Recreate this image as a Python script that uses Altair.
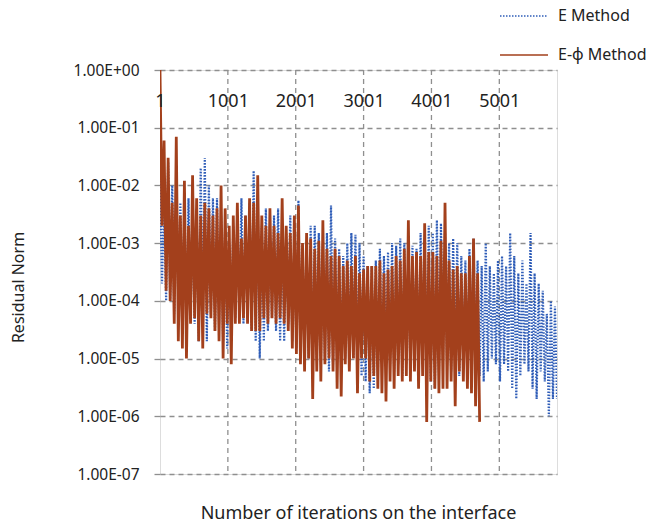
import altair as alt
import pandas as pd

# iteration step between stored samples (category positions 1, 31, 61, ...)
ITER_STEP = 30

E_METHOD = [
    1.2e-2, 2e-4, 5e-3, 1e-4, 2.5e-2, 1e-4, 1e-2, 6e-5, 1.5e-2, 8e-5,
    5e-3, 5e-5, 4e-3, 3e-5, 6e-3, 5e-5, 3e-3, 4e-5, 4e-3, 2e-5,
    2e-2, 5e-5, 3e-2, 2e-5, 1e-2, 6e-5, 6e-3, 3e-5, 6e-3, 4e-5,
    3e-3, 2e-5, 2e-3, 1.5e-5, 1e-3, 3e-5, 2e-3, 5e-5, 3e-3, 6e-5,
    6e-3, 4e-5, 3e-3, 5e-5, 5e-3, 3e-5, 1.8e-2, 2e-5, 4e-3, 1e-5,
    2e-3, 2e-5, 4e-3, 3e-5, 2e-3, 5e-5, 3e-3, 3e-5, 4e-3, 2e-5,
    2e-3, 2e-5, 1.5e-3, 4e-5, 3e-3, 2e-5, 1.5e-3, 1.5e-5, 5.5e-3, 1e-5,
    1e-3, 1.5e-5, 8e-4, 1e-5, 2e-3, 6e-6, 2e-3, 1e-5, 1.5e-3, 8e-6,
    1e-3, 1e-5, 1.5e-3, 6e-6, 4.5e-3, 8e-6, 1.2e-3, 1e-5, 8e-4, 6e-6,
    6e-4, 1e-5, 1e-3, 8e-6, 1.5e-3, 1e-5, 1.4e-3, 6e-6, 1e-3, 5e-6,
    6e-4, 4e-6, 4e-4, 2.5e-6, 4e-4, 3e-6, 5e-4, 5e-6, 8e-4, 8e-6,
    6e-4, 1e-5, 7e-4, 8e-6, 1e-3, 6e-6, 9e-4, 8e-6, 1.2e-3, 5e-6,
    1e-3, 8e-6, 6e-4, 6e-6, 9e-4, 1e-5, 8e-4, 6e-6, 1.5e-3, 1e-5,
    1.2e-3, 8e-6, 2e-3, 4e-6, 1.5e-3, 3e-6, 2.5e-3, 6e-6, 2.2e-3, 1e-5,
    1.5e-3, 8e-6, 1e-3, 6e-6, 1.2e-3, 1e-5, 1e-3, 5e-6, 6e-4, 8e-6,
    5e-4, 6e-6, 8e-4, 1e-5, 1.2e-3, 8e-6, 5e-4, 5e-6, 4e-4, 4e-6,
    1e-3, 6e-6, 4e-4, 1e-5, 3e-4, 8e-6, 5e-4, 4e-6, 6e-4, 8e-6,
    4e-4, 6e-6, 1.5e-3, 3e-6, 6e-4, 2e-6, 3e-4, 5e-6, 5e-4, 8e-6,
    2e-4, 6e-6, 1.5e-3, 3e-6, 3e-4, 2e-6, 2e-4, 6e-6, 1.5e-4, 4e-6,
    6e-5, 1e-6, 1e-4, 2e-6, 8e-5, 2e-6,
]

E_PHI_METHOD = [
    1.0, 2e-3, 6e-2, 1.5e-4, 3e-2, 1e-4, 5e-3, 4e-5, 7e-2, 2e-5,
    3e-3, 1.5e-5, 1.2e-2, 1e-5, 2e-3, 4e-5, 1.5e-2, 5e-5, 6e-3, 2e-5,
    3e-3, 1.5e-5, 5e-3, 6e-5, 4e-3, 5e-5, 3e-3, 3e-5, 4e-3, 2e-5,
    1e-2, 1e-5, 4e-3, 4e-5, 2e-3, 8e-6, 3e-3, 4e-5, 5e-3, 4e-5,
    1.2e-3, 5e-5, 3e-3, 4e-5, 6e-3, 3e-5, 5e-3, 3e-5, 1.5e-2, 3e-5,
    3e-3, 5e-5, 2e-3, 4e-5, 4e-3, 5e-5, 2e-3, 4e-5, 1.5e-3, 5e-5,
    6e-3, 4e-5, 2e-3, 3e-5, 1.5e-3, 1.5e-5, 3e-3, 1.2e-5, 4.5e-3, 8e-6,
    1e-3, 6e-6, 1.5e-3, 1e-5, 1.2e-3, 2e-6, 8e-4, 6e-6, 1.1e-3, 4e-6,
    2.5e-3, 8e-6, 8e-4, 1e-5, 6e-4, 6e-6, 8e-4, 3e-6, 6e-4, 2.2e-6,
    4e-4, 8e-6, 5e-4, 6e-6, 4e-4, 1e-5, 6e-4, 2.5e-6, 3e-4, 1e-5,
    3.5e-4, 1e-5, 4e-4, 4e-6, 4e-4, 5e-6, 4e-4, 3e-6, 5e-4, 2.5e-6,
    3e-4, 1.8e-6, 3.5e-4, 4e-6, 4e-4, 3e-6, 6e-4, 5e-6, 5e-4, 4e-6,
    8e-4, 5e-6, 2.5e-3, 4e-6, 6e-4, 6e-6, 7e-4, 3e-6, 6e-4, 5e-6,
    2.2e-3, 8e-7, 7e-4, 4e-6, 7e-4, 3e-6, 6e-4, 2.5e-6, 1.1e-3, 3e-6,
    5e-3, 3e-6, 5e-4, 4e-6, 3.5e-4, 1.5e-6, 4e-4, 6e-6, 3e-4, 4e-6,
    3e-4, 3e-6, 6e-4, 2.5e-6, 1.2e-3, 1.5e-6, 3e-4, 8e-7,
]

SERIES = ["E Method", "E-ϕ Method"]
X_TICKS = [1, 1001, 2001, 3001, 4001, 5001]
Y_TICKS = [1e-7, 1e-6, 1e-5, 1e-4, 1e-3, 1e-2, 1e-1, 1e0]

rows = []
for name, vals in zip(SERIES, [E_METHOD, E_PHI_METHOD]):
    for i, v in enumerate(vals):
        rows.append({"iter": 1 + ITER_STEP * i, "value": v, "series": name})
df = pd.DataFrame(rows)
grid_df = pd.DataFrame({"iter": X_TICKS[1:]})

FONT = "Noto Sans"
GRID = "#8f8f8f"
x_max = 1 + ITER_STEP * (len(E_METHOD) - 1)
x_scale = alt.Scale(domain=[1, x_max], nice=False, zero=False)

color = alt.Color(
    "series:N",
    scale=alt.Scale(domain=SERIES, range=["#2F5DB8", "#A3401C"]),
    legend=alt.Legend(
        title=None, orient="none", legendX=339, legendY=-79,
        symbolType="stroke", symbolSize=2304, symbolStrokeWidth=1.5,
        rowPadding=6, labelOffset=9, padding=0,
        labelFont=FONT, labelFontSize=16, labelColor="#222222",
    ),
)
dash = alt.StrokeDash(
    "series:N",
    scale=alt.Scale(domain=SERIES, range=[[1.5, 1.5], [1, 0]]),
    legend=None,
)

x_axis = alt.Axis(
    orient="top", values=X_TICKS, format="d", title=None, ticks=False, tickSize=0,
    domain=False, labelPadding=-31, labelBaseline="middle",
    labelFlush=False, labelOverlap=False, zindex=1,
    labelFont=FONT, labelFontSize=18, labelColor="#222222",
    grid=False,
)
x_enc = alt.X("iter:Q", scale=x_scale, axis=x_axis)
y_enc = alt.Y(
    "value:Q",
    scale=alt.Scale(type="log", domain=[1e-7, 1], nice=False),
    axis=alt.Axis(
        values=Y_TICKS, title="Residual Norm",
        labelExpr="'1.00E' + (datum.value >= 1 ? '+00' : '-0' + format(round(-log(datum.value)/LN10), 'd'))",
        labelFlush=False, labelOverlap=False, labelPadding=15,
        labelFont=FONT, labelFontSize=15.5, labelColor="#222222",
        ticks=True, tickSize=6, tickColor=GRID, tickWidth=1.3,
        domain=False,
        grid=True, gridDash=[5, 4], gridColor=GRID, gridWidth=1.3,
        titleFont=FONT, titleFontSize=16, titleFontWeight="normal",
        titleColor="#222222", titleX=-142, titleY=217, titleAngle=270,
        titleBaseline="middle", titleAlign="center",
    ),
)

vgrid = alt.Chart(grid_df).mark_rule(
    strokeDash=[5, 4], color=GRID, strokeWidth=1.3
).encode(x=x_enc)

base = alt.Chart(df)
blue = base.transform_filter(alt.datum.series == SERIES[0]).mark_line(
    strokeWidth=2.2, clip=True
).encode(x=x_enc, y=y_enc, color=color, strokeDash=dash)
red = base.transform_filter(alt.datum.series == SERIES[1]).mark_line(
    strokeWidth=2.8, clip=True
).encode(x=x_enc, y=y_enc, color=color, strokeDash=dash)

chart = alt.layer(vgrid, blue, red).properties(
    width=397, height=404,
    autosize=alt.AutoSizeParams(type="none"),
    padding={"left": 160, "top": 70, "right": 97, "bottom": 51},
    title=alt.TitleParams(
        "Number of iterations  on the interface", orient="bottom",
        font=FONT, fontSize=18, fontWeight="normal", color="#222222",
        offset=22, baseline="top", anchor="middle",
    ),
).configure_view(stroke="#9a9a9a", strokeWidth=1.5).configure(background="white")

chart.save("out.html", embed_options={"renderer": "svg", "actions": False})
